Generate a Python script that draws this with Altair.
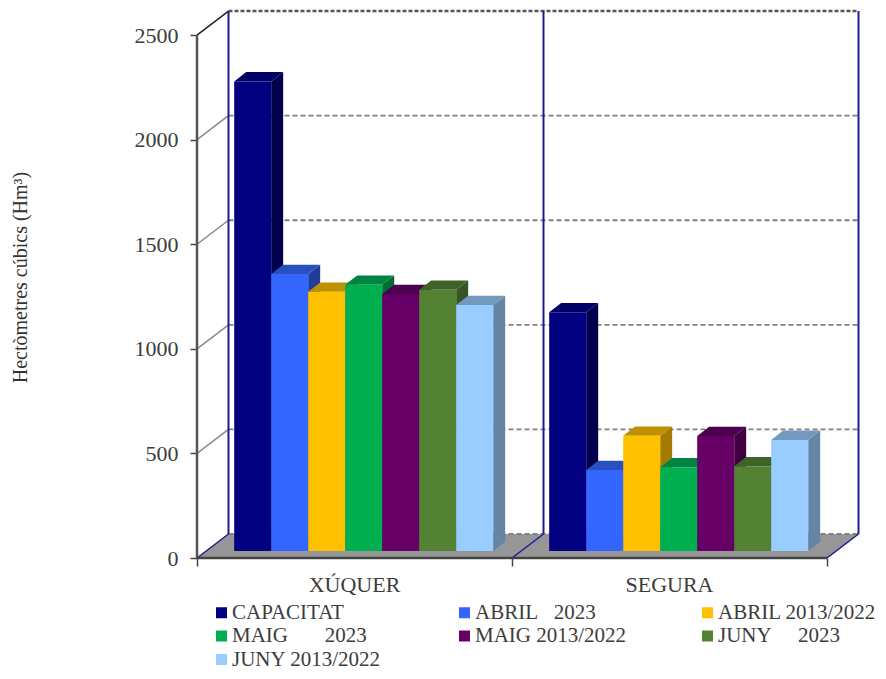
import altair as alt
import pandas as pd

# ---- values ----
basins = ["XÚQUER", "SEGURA"]
series = ["CAPACITAT", "ABRIL\u00a0\u00a0\u00a02023", "ABRIL 2013/2022",
          "MAIG\u00a0\u00a0\u00a0\u00a0\u00a0\u00a0\u00a02023", "MAIG 2013/2022",
          "JUNY\u00a0\u00a0\u00a0\u00a0\u00a02023", "JUNY 2013/2022"]
xuquer_values = [2245, 1324, 1239, 1273, 1228, 1249, 1176]
segura_values = [1141, 387, 551, 400, 550, 405, 531]
y_ticks = [0, 500, 1000, 1500, 2000, 2500]

# ---- styles ----
front_colors = ["#000080", "#3366FF", "#FFC000", "#00B050", "#660066", "#548235", "#99CCFF"]
top_colors = ["#000066", "#2850C0", "#BF9000", "#008442", "#4D004D", "#3F6228", "#7399BF"]
side_colors = ["#00004D", "#1F3D99", "#A37B00", "#006B35", "#420042", "#365522", "#6485A6"]
FONT = "Liberation Serif"
TEXT = "#3c3c3c"
WALL = "#1c1c90"

# ---- 3-D projection, in axis units ----
DEPTH_X, DEPTH_Y = 0.1, 114.7      # shift of the back wall
BAR_W = 37 / 315
GAP = (1 - 7 * BAR_W) / 2
BASE_X, BASE_Y = 0.0292, 33.5      # bars stand a little behind the front edge
BAR_DX, BAR_DY = 0.038, 44.5       # depth of one bar
XMAX, YMAX = 2.1016, 2615

xs = alt.Scale(domain=[0, XMAX], nice=False, zero=False)
ys = alt.Scale(domain=[0, YMAX], nice=False, zero=False)

fronts, sides, tops = [], [], []
for b, vals in enumerate([xuquer_values, segura_values]):
    for i, v in enumerate(vals):
        x0 = b + GAP + BASE_X + i * BAR_W
        x1 = x0 + BAR_W
        bid = f"{b}-{i}"
        fronts.append(dict(s=series[i], x=x0, x2=x1, y=BASE_Y, y2=BASE_Y + v))
        for k in (0, 1):
            sides.append(dict(id=bid, c=side_colors[i], x=x1 + k * BAR_DX,
                              y=BASE_Y + v + k * BAR_DY, y2=BASE_Y + k * BAR_DY))
            tops.append(dict(id=bid, c=top_colors[i], x=x0 + k * BAR_DX, x2=x1 + k * BAR_DX,
                             y=BASE_Y + v + k * BAR_DY))

X = alt.X("x:Q", scale=xs, title=None,
          axis=alt.Axis(values=[0, 1, 2], labels=False, grid=False, domain=False,
                        tickSize=8, tickColor="#444444", tickWidth=1.5))
Y = alt.Y("y:Q", scale=ys, title="Hectòmetres cúbics (Hm³)",
          axis=alt.Axis(values=y_ticks, format="d", grid=False, domain=False, tickSize=7,
                        tickColor="#444444", tickWidth=1.5, labelPadding=12, labelFont=FONT,
                        labelFontSize=22, labelColor=TEXT, titleFont=FONT, titleFontSize=20,
                        titleFontWeight="normal", titleColor="#333333", titleAngle=-90,
                        titleX=-177, titleY=266, titleAlign="center", titleBaseline="middle"))
X2 = alt.X2("x2:Q")
Y2 = alt.Y2("y2:Q")


def rules(rows, **mark):
    return alt.Chart(pd.DataFrame(rows)).mark_rule(**mark).encode(x=X, x2=X2, y=Y, y2=Y2)


floor_rows = [dict(x=k * DEPTH_X, x2=2 + k * DEPTH_X, y=k * DEPTH_Y) for k in (0, 1)]
floor = alt.Chart(pd.DataFrame(floor_rows)).mark_area(orient="horizontal", color="#969696").encode(
    x=X, x2=X2, y=Y)

back = rules([dict(x=DEPTH_X, x2=2 + DEPTH_X, y=t + DEPTH_Y, y2=t + DEPTH_Y) for t in y_ticks[:-1]],
             color="#808080", strokeWidth=1.8, strokeDash=[5, 3])
back_top = rules([dict(x=DEPTH_X, x2=2 + DEPTH_X, y=y_ticks[-1] + DEPTH_Y, y2=y_ticks[-1] + DEPTH_Y)],
                 color="#555555", strokeWidth=2.5, strokeDash=[4, 2])
slants = rules([dict(x=0, x2=DEPTH_X, y=t, y2=t + DEPTH_Y) for t in y_ticks[1:-1]],
               color="#8a8a8a", strokeWidth=1.5)
slant_top = rules([dict(x=0, x2=DEPTH_X, y=y_ticks[-1], y2=y_ticks[-1] + DEPTH_Y)],
                  color="#222222", strokeWidth=1.5)
walls = rules([dict(x=k + DEPTH_X, x2=k + DEPTH_X, y=DEPTH_Y, y2=y_ticks[-1] + DEPTH_Y) for k in (0, 1, 2)],
              color=WALL, strokeWidth=2)
floor_edges = rules([dict(x=k, x2=k + DEPTH_X, y=0, y2=DEPTH_Y) for k in (0, 1, 2)],
                    color=WALL, strokeWidth=1.5)
y_line = rules([dict(x=0, x2=0, y=0, y2=y_ticks[-1])], color="#555555", strokeWidth=2.5)
x_line = rules([dict(x=0, x2=2, y=0, y2=0)], color="#444444", strokeWidth=2.5)

side_layer = alt.Chart(pd.DataFrame(sides)).mark_area().encode(
    x=X, y=Y, y2=Y2, detail="id:N", fill=alt.Fill("c:N", scale=None))
top_layer = alt.Chart(pd.DataFrame(tops)).mark_area(orient="horizontal").encode(
    x=X, x2=X2, y=Y, detail="id:N", fill=alt.Fill("c:N", scale=None))
front_layer = alt.Chart(pd.DataFrame(fronts)).mark_rect().encode(
    x=X, x2=X2, y=Y, y2=Y2,
    color=alt.Color("s:N", scale=alt.Scale(domain=series, range=front_colors),
                    legend=alt.Legend(orient="none", legendX=14, legendY=591, title=None, columns=3,
                                      direction="horizontal",
                                      symbolType="square", symbolSize=121, symbolStrokeWidth=0,
                                      symbolOpacity=1, labelFont=FONT, labelFontSize=21,
                                      labelColor=TEXT, labelLimit=400, labelOffset=0,
                                      rowPadding=1.5, columnPadding=63, gridAlign="all",
                                      padding=0, values=series)))

cat_labels = alt.Chart(pd.DataFrame({"x": [0.5, 1.5], "y": [0, 0], "t": basins})).mark_text(
    font=FONT, fontSize=22, color=TEXT, dy=27, baseline="middle", align="center").encode(
    x=X, y=Y, text="t:N")

chart = alt.layer(
    floor, back, back_top, slants, slant_top, walls, floor_edges, y_line, x_line,
    side_layer, top_layer, front_layer, cat_labels,
).properties(
    width=662, height=547,
    autosize=alt.AutoSizeParams(type="none"),
    padding={"left": 189, "top": 3, "right": 19, "bottom": 112},
).configure_view(stroke=None)

chart.save("out.html", embed_options={"renderer": "svg", "actions": False})
